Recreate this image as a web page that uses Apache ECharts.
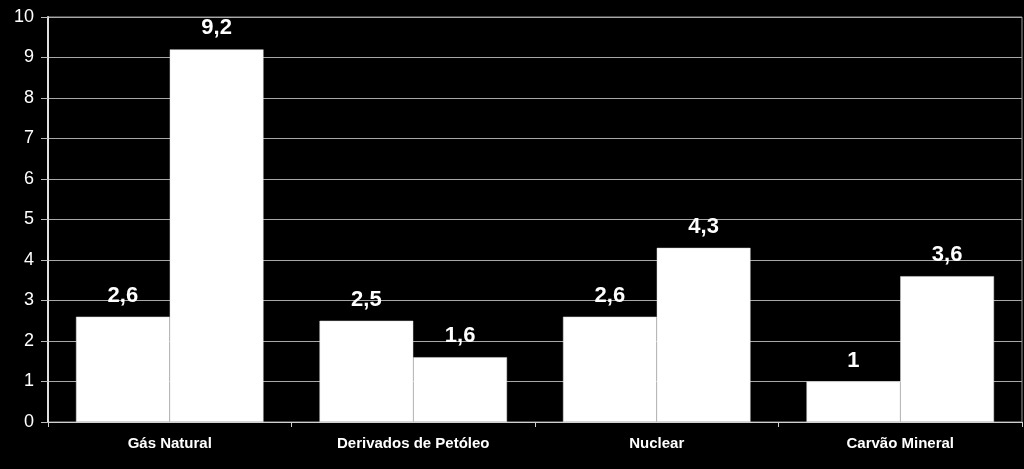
<!DOCTYPE html>
<html><head><meta charset="utf-8">
<script src="https://cdn.jsdelivr.net/npm/echarts@6/dist/echarts.min.js"></script>
<style>html,body{margin:0;padding:0;background:#000;}#c{width:1024px;height:469px;}</style>
</head><body><div id="c"></div>
<script>
const categories = ['Gás Natural', 'Derivados de Petóleo', 'Nuclear', 'Carvão Mineral'];
const seriesA = [2.6, 2.5, 2.6, 1];
const seriesB = [9.2, 1.6, 4.3, 3.6];
const yTicks = [0, 1, 2, 3, 4, 5, 6, 7, 8, 9, 10];

const chart = echarts.init(document.getElementById('c'));
const fmt = p => String(p.value).replace('.', ',');
const label = {show: true, position: 'top', distance: 10, color: '#fff', fontFamily: 'Liberation Sans', fontWeight: 'bold', fontSize: 22, formatter: fmt};
chart.setOption({
  backgroundColor: '#000',
  animation: false,
  grid: {left: 48, right: 2, top: 17, bottom: 47, show: true, borderColor: '#9a9a9a', borderWidth: 1},
  xAxis: {
    type: 'category', data: categories,
    axisLine: {lineStyle: {color: '#d0d0d0', width: 1}},
    axisTick: {show: true, length: 5, lineStyle: {color: '#d0d0d0'}},
    axisLabel: {color: '#fff', fontFamily: 'Liberation Sans', fontWeight: 'bold', fontSize: 15, margin: 14}
  },
  yAxis: {
    type: 'value', min: yTicks[0], max: yTicks[yTicks.length - 1], interval: 1,
    axisLine: {show: true, lineStyle: {color: '#e0e0e0', width: 2}},
    axisTick: {show: true, length: 7, lineStyle: {color: '#bbb'}},
    splitLine: {lineStyle: {color: '#a8a8a8', width: 1}},
    axisLabel: {color: '#fff', fontFamily: 'Liberation Sans', fontSize: 18, margin: 14}
  },
  series: [
    {type: 'bar', data: seriesA, barGap: '0%', barCategoryGap: '23%', itemStyle: {color: '#fff', borderColor: '#d8d8d8', borderWidth: 0.5}, label: label},
    {type: 'bar', data: seriesB, itemStyle: {color: '#fff', borderColor: '#d8d8d8', borderWidth: 0.5}, label: label}
  ]
});
</script></body></html>
